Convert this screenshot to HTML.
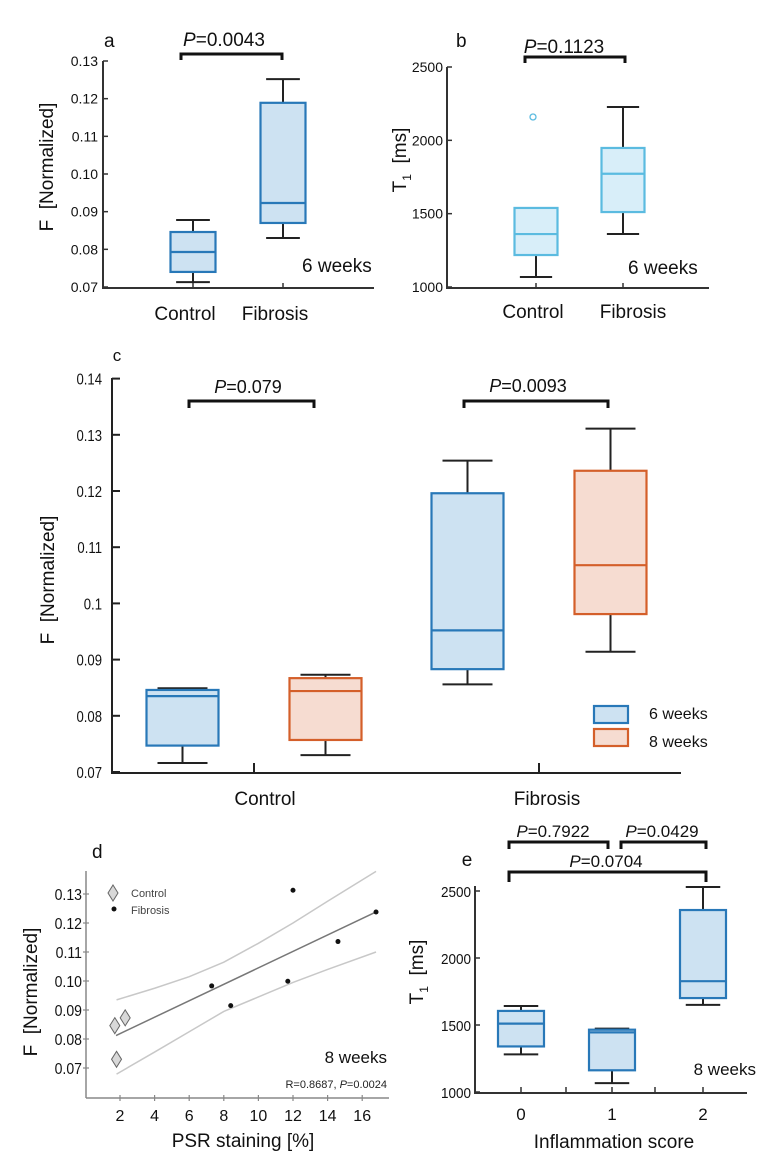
<!DOCTYPE html>
<html><head><meta charset="utf-8">
<style>
html,body{margin:0;padding:0;background:#fff;}
svg{display:block;font-family:"Liberation Sans",sans-serif;}
</style></head>
<body>
<svg id="fig" width="768" height="1151" viewBox="0 0 768 1151" xmlns="http://www.w3.org/2000/svg">
<g id="pa"></g>
<g id="pb"></g>
<g id="pc"></g>
<g id="pd"></g>
<g id="pe"></g>
</svg>
<script>
// Panel a data
const aCats = ["Control","Fibrosis"];
const aLow = [0.0713, 0.0830];
const aQ1 = [0.0740, 0.0870];
const aMed = [0.0793, 0.0923];
const aQ3 = [0.0846, 0.1189];
const aHigh = [0.0878, 0.1252];
const aTicks = [0.07,0.08,0.09,0.10,0.11,0.12,0.13];
const aTickLabels = ["0.07","0.08","0.09","0.10","0.11","0.12","0.13"];
// Panel b data
const bCats = ["Control","Fibrosis"];
const bLow = [1068, 1361];
const bQ1 = [1218, 1511];
const bMed = [1361, 1772];
const bQ3 = [1539, 1948];
const bHigh = [1539, 2227];
const bOutliers = [2159, null];
const bTicks = [1000,1500,2000,2500];
// Panel c data
const cCats = ["Control","Fibrosis"];
const c6Low = [0.0716, 0.0856];
const c6Q1 = [0.0747, 0.0883];
const c6Med = [0.0835, 0.0952];
const c6Q3 = [0.0846, 0.1196];
const c6High = [0.0849, 0.1254];
const c8Low = [0.0730, 0.0914];
const c8Q1 = [0.0757, 0.0981];
const c8Med = [0.0844, 0.1068];
const c8Q3 = [0.0867, 0.1236];
const c8High = [0.0873, 0.1311];
const cTicks = [0.07,0.08,0.09,0.10,0.11,0.12,0.13,0.14];
const cTickLabels = ["0.07","0.08","0.09","0.1","0.11","0.12","0.13","0.14"];
// Panel d data
const dCtrlX = [1.7, 2.3, 1.8];
const dCtrlY = [0.0846, 0.0873, 0.0730];
const dFibX = [12.0, 16.8, 14.6, 7.3, 8.4, 11.7];
const dFibY = [0.1313, 0.1238, 0.1136, 0.0983, 0.0915, 0.0999];
const dFitX = [1.77, 16.8];
const dFitY = [0.0812, 0.1238];
const dCiX = [1.8, 4, 6, 8, 10, 12, 14, 16.8];
const dCiUpper = [0.0935, 0.0975, 0.1015, 0.1065, 0.1130, 0.1200, 0.1275, 0.1378];
const dCiLower = [0.0679, 0.0755, 0.0825, 0.0895, 0.0945, 0.0995, 0.1040, 0.1100];
const dYTicks = [0.07,0.08,0.09,0.10,0.11,0.12,0.13];
const dXTicks = [2,4,6,8,10,12,14,16];
// Panel e data
const eCats = ["0","1","2"];
const eLow = [1281, 1066, 1650];
const eQ1 = [1340, 1162, 1701];
const eMed = [1510, 1445, 1827];
const eQ3 = [1605, 1465, 2358];
const eHigh = [1642, 1473, 2530];
const eTicks = [1000,1500,2000,2500];

const NS="http://www.w3.org/2000/svg";
function el(parent, tag, attrs, text){
  const e=document.createElementNS(NS,tag);
  for(const k in attrs) e.setAttribute(k,attrs[k]);
  if(text!==undefined) e.textContent=text;
  parent.appendChild(e); return e;
}
function txt(parent,x,y,s,size,anchor,name,extra){
  const t=el(parent,'text',Object.assign({x:x,y:y,'font-size':size,'text-anchor':anchor||'start',fill:'#111'},extra||{}),s);
  
  
  return t;
}
function ptext(parent,x,y,val,size,name){
  const t=el(parent,'text',{x:x,y:y,'font-size':size,'text-anchor':'middle',fill:'#111'});
  
  
  el(t,'tspan',{'font-style':'italic'},'P');
  el(t,'tspan',{},'='+val);
}
function bracket(parent,x1,x2,y,leg,name){
  const p=el(parent,'path',{d:`M${x1} ${y+leg} V${y} H${x2} V${y+leg}`,fill:'none',stroke:'#111','stroke-width':3});
  
  
}
function box(parent,cx,w,yf,lo,q1,md,q3,hi,stroke,fill,name,capw){
  const g=el(parent,'g',{});
  
  
  const cw=capw||w*0.75;
  el(g,'line',{x1:cx,x2:cx,y1:yf(lo),y2:yf(q1),stroke:'#222','stroke-width':2});
  el(g,'line',{x1:cx,x2:cx,y1:yf(q3),y2:yf(hi),stroke:'#222','stroke-width':2});
  el(g,'line',{x1:cx-cw/2,x2:cx+cw/2,y1:yf(lo),y2:yf(lo),stroke:'#222','stroke-width':2});
  el(g,'line',{x1:cx-cw/2,x2:cx+cw/2,y1:yf(hi),y2:yf(hi),stroke:'#222','stroke-width':2});
  el(g,'rect',{x:cx-w/2,y:yf(q3),width:w,height:yf(q1)-yf(q3),fill:fill,stroke:stroke,'stroke-width':2.2});
  el(g,'line',{x1:cx-w/2,x2:cx+w/2,y1:yf(md),y2:yf(md),stroke:stroke,'stroke-width':2.2});
}
const BLUE='#2878b8', BFILL='#cde2f2', CYAN='#5bbbe0', CFILL='#d8eef9', ORA='#d45f2a', OFILL='#f6dcd1';
const NB='\u00a0';

// ===== Panel a =====
(function(){
  const g=document.getElementById('pa');
  const y=v=>287-(v-0.07)/0.06*226;
  const xs=[193,283];
  el(g,'line',{x1:103,y1:61,x2:103,y2:288,stroke:'#333','stroke-width':2});
  el(g,'line',{x1:102,y1:288,x2:374,y2:288,stroke:'#333','stroke-width':2});
  aTicks.forEach((t,i)=>{
    el(g,'line',{x1:103,x2:108,y1:y(t),y2:y(t),stroke:'#333','stroke-width':1.5});
    txt(g,98,y(t)+5,aTickLabels[i],14,'end','y-tick-label');
  });
  xs.forEach(x=>el(g,'line',{x1:x,x2:x,y1:283,y2:288,stroke:'#333','stroke-width':1.5}));
  aCats.forEach((c,i)=>{
    box(g,xs[i],45,y,aLow[i],aQ1[i],aMed[i],aQ3[i],aHigh[i],BLUE,BFILL,'box-'+c.toLowerCase());
    txt(g,xs[i]-8,320,c,19,'middle','x-label-'+c.toLowerCase());
  });
  txt(g,104,47,'a',19,'start','panel-label-a');
  bracket(g,181,282,54,6,'significance-bracket');
  ptext(g,224,46,'0.0043',19,'p-value');
  txt(g,302,272,'6 weeks',19,'start','time-label');
  txt(g,0,0,'F'+NB+NB+'[Normalized]',19,'middle','y-axis-title',{transform:'translate(53,167) rotate(-90)'});
})();

// ===== Panel b =====
(function(){
  const g=document.getElementById('pb');
  const y=v=>287-(v-1000)/1500*220;
  const xs=[536,623];
  el(g,'line',{x1:447,y1:67,x2:447,y2:288,stroke:'#333','stroke-width':2});
  el(g,'line',{x1:446,y1:288,x2:709,y2:288,stroke:'#333','stroke-width':2});
  bTicks.forEach(t=>{
    el(g,'line',{x1:447,x2:452,y1:y(t),y2:y(t),stroke:'#333','stroke-width':1.5});
    txt(g,443,y(t)+5,String(t),14,'end','y-tick-label');
  });
  xs.forEach(x=>el(g,'line',{x1:x,x2:x,y1:283,y2:288,stroke:'#333','stroke-width':1.5}));
  bCats.forEach((c,i)=>{
    box(g,xs[i],43,y,bLow[i],bQ1[i],bMed[i],bQ3[i],bHigh[i],CYAN,CFILL,'box-'+c.toLowerCase());
    if(bOutliers[i]!==null){
      const o=el(g,'circle',{cx:xs[i]-3,cy:y(bOutliers[i]),r:3,fill:'none',stroke:CYAN,'stroke-width':1.3});
      
      
    }
    txt(g,[533,633][i],318,c,19,'middle','x-label-'+c.toLowerCase());
  });
  txt(g,456,47,'b',19,'start','panel-label-b');
  bracket(g,525,625,57,6,'significance-bracket');
  ptext(g,564,53,'0.1123',19,'p-value');
  txt(g,628,274,'6 weeks',19,'start','time-label');
  const t=el(g,'text',{transform:'translate(406,160) rotate(-90)','font-size':19,'text-anchor':'middle',fill:'#111'});
  
  
  el(t,'tspan',{},'T');
  el(t,'tspan',{'font-size':12,dy:5},'1');
  el(t,'tspan',{dy:-5},NB+NB+'[ms]');
})();

// ===== Panel c =====
(function(){
  const g=document.getElementById('pc');
  const y=v=>772-(v-0.07)*5620;
  const xs=[254,539], off=71.5;
  el(g,'line',{x1:112,y1:378,x2:112,y2:773,stroke:'#222','stroke-width':2});
  el(g,'line',{x1:111,y1:773,x2:681,y2:773,stroke:'#222','stroke-width':2});
  cTicks.forEach((t,i)=>{
    el(g,'line',{x1:112,x2:120,y1:y(t),y2:y(t),stroke:'#222','stroke-width':2});
    txt(g,102,y(t)+6,cTickLabels[i],16,'end','y-tick-label',{transform:`translate(${102*0.18},0) scale(0.82,1)`});
  });
  xs.forEach(x=>el(g,'line',{x1:x,x2:x,y1:763,y2:773,stroke:'#222','stroke-width':2}));
  cCats.forEach((c,i)=>{
    box(g,xs[i]-off,72,y,c6Low[i],c6Q1[i],c6Med[i],c6Q3[i],c6High[i],BLUE,BFILL,'box-'+c.toLowerCase()+'-6weeks',50);
    box(g,xs[i]+off,72,y,c8Low[i],c8Q1[i],c8Med[i],c8Q3[i],c8High[i],ORA,OFILL,'box-'+c.toLowerCase()+'-8weeks',50);
    txt(g,[265,547][i],805,c,19,'middle','x-label-'+c.toLowerCase());
  });
  txt(g,117,361,'c',17,'middle','panel-label-c');
  bracket(g,189,314,401,7,'bracket-control');
  bracket(g,464,608,401,7,'bracket-fibrosis');
  ptext(g,248,393,'0.079',18,'p-value-control');
  ptext(g,528,392,'0.0093',18,'p-value-fibrosis');
  const l1=el(g,'rect',{x:594,y:706,width:34,height:17,fill:BFILL,stroke:BLUE,'stroke-width':2.2});
  
  
  const l2=el(g,'rect',{x:594,y:729,width:34,height:17,fill:OFILL,stroke:ORA,'stroke-width':2.2});
  
  
  txt(g,649,719,'6 weeks',16,'start','legend-entry-6weeks');
  txt(g,649,747,'8 weeks',16,'start','legend-entry-8weeks');
  txt(g,0,0,'F'+NB+NB+'[Normalized]',19,'middle','y-axis-title',{transform:'translate(54,580) rotate(-90)'});
})();

// ===== Panel d =====
(function(){
  const g=document.getElementById('pd');
  const y=v=>894-(v-0.13)*2900;
  const x=v=>120+(v-2)*17.3;
  el(g,'line',{x1:86,y1:871,x2:86,y2:1098,stroke:'#888','stroke-width':1.5});
  el(g,'line',{x1:86,y1:1098,x2:389,y2:1098,stroke:'#888','stroke-width':1.5});
  dYTicks.forEach(t=>{
    el(g,'line',{x1:83,x2:89,y1:y(t),y2:y(t),stroke:'#888','stroke-width':1.2});
    txt(g,82,y(t)+6,t.toFixed(2),16,'end','y-tick-label',{transform:`translate(${82*0.12},0) scale(0.88,1)`});
  });
  dXTicks.forEach(t=>{
    el(g,'line',{x1:x(t),x2:x(t),y1:1095,y2:1101,stroke:'#888','stroke-width':1.2});
    txt(g,x(t),1121,String(t),16,'middle','x-tick-label');
  });
  const up=el(g,'path',{d:dCiX.map((v,i)=>(i?'L':'M')+x(v)+' '+y(dCiUpper[i])).join(' '),fill:'none',stroke:'#c8c8c8','stroke-width':1.5});
  
  
  const lo=el(g,'path',{d:dCiX.map((v,i)=>(i?'L':'M')+x(v)+' '+y(dCiLower[i])).join(' '),fill:'none',stroke:'#c8c8c8','stroke-width':1.5});
  
  
  const fit=el(g,'line',{x1:x(dFitX[0]),y1:y(dFitY[0]),x2:x(dFitX[1]),y2:y(dFitY[1]),stroke:'#777','stroke-width':1.5});
  
  
  dCtrlX.forEach((v,i)=>{
    const cx=x(v), cy=y(dCtrlY[i]);
    const p=el(g,'path',{d:`M${cx} ${cy-8} L${cx+5} ${cy} L${cx} ${cy+8} L${cx-5} ${cy} Z`,fill:'#d8d8d8',stroke:'#666','stroke-width':1});
    
    
  });
  dFibX.forEach((v,i)=>{
    const c=el(g,'circle',{cx:x(v),cy:y(dFibY[i]),r:2.5,fill:'#111'});
    
    
  });
  const ld=el(g,'path',{d:'M113 885 L118 893 L113 901 L108 893 Z',fill:'#d8d8d8',stroke:'#666','stroke-width':1});
  
  
  const lc=el(g,'circle',{cx:114,cy:909,r:2.5,fill:'#111'});
  
  
  txt(g,131,897,'Control',11,'start','legend-entry-control',{fill:'#444'});
  txt(g,131,914,'Fibrosis',11,'start','legend-entry-fibrosis',{fill:'#444'});
  txt(g,92,858,'d',19,'start','panel-label-d');
  txt(g,387,1063,'8 weeks',17,'end','time-label');
  const r=el(g,'text',{x:387,y:1088,'font-size':11,'text-anchor':'end',fill:'#222'});
  
  
  el(r,'tspan',{},'R=0.8687, ');
  el(r,'tspan',{'font-style':'italic'},'P');
  el(r,'tspan',{},'=0.0024');
  txt(g,243,1147,'PSR staining [%]',19,'middle','x-axis-title');
  txt(g,0,0,'F'+NB+NB+'[Normalized]',19,'middle','y-axis-title',{transform:'translate(37,992) rotate(-90)'});
})();

// ===== Panel e =====
(function(){
  const g=document.getElementById('pe');
  const y=v=>891+(2500-v)/500*67;
  const xs=[521,612,703];
  el(g,'line',{x1:475,y1:886,x2:475,y2:1093,stroke:'#333','stroke-width':2});
  el(g,'line',{x1:474,y1:1093,x2:747,y2:1093,stroke:'#333','stroke-width':2});
  eTicks.forEach(t=>{
    el(g,'line',{x1:475,x2:480,y1:y(t),y2:y(t),stroke:'#333','stroke-width':1.5});
    txt(g,471,y(t)+6,String(t),15,'end','y-tick-label',{transform:`translate(${471*0.1},0) scale(0.9,1)`});
  });
  [521,566,612,655,703].forEach(xx=>el(g,'line',{x1:xx,x2:xx,y1:1087,y2:1093,stroke:'#333','stroke-width':1.5}));
  eCats.forEach((c,i)=>{
    box(g,xs[i],46,y,eLow[i],eQ1[i],eMed[i],eQ3[i],eHigh[i],BLUE,BFILL,'box-score-'+c);
    txt(g,xs[i],1120,c,17,'middle','x-tick-label');
  });
  txt(g,467,866,'e',19,'middle','panel-label-e');
  bracket(g,509,608,842,7,'bracket-0-1');
  bracket(g,621,706,842,7,'bracket-1-2');
  bracket(g,509,706,872,10,'bracket-0-2');
  ptext(g,553,837,'0.7922',17,'p-value-0-1');
  ptext(g,662,837,'0.0429',17,'p-value-1-2');
  ptext(g,606,867,'0.0704',17,'p-value-0-2');
  txt(g,756,1075,'8 weeks',17,'end','time-label');
  txt(g,614,1148,'Inflammation score',19,'middle','x-axis-title');
  const t=el(g,'text',{transform:'translate(423,972) rotate(-90)','font-size':19,'text-anchor':'middle',fill:'#111'});
  
  
  el(t,'tspan',{},'T');
  el(t,'tspan',{'font-size':12,dy:5},'1');
  el(t,'tspan',{dy:-5},NB+NB+'[ms]');
})();
</script>
</body></html>
